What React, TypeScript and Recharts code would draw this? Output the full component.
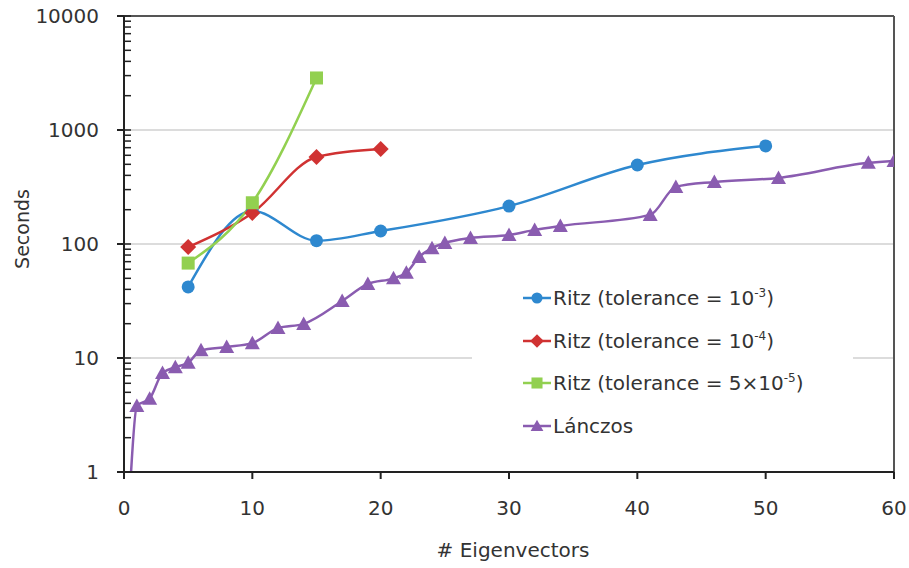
import React from 'react';
import {
  LineChart,
  Line,
  XAxis,
  YAxis,
  CartesianGrid,
  Legend,
  ReferenceLine,
  Label,
} from 'recharts';

// values (log y axis, seconds)
const ritz3X = [5, 10, 15, 20, 30, 40, 50];
const ritz3Y = [42, 195, 107, 130, 215, 493, 725];
const ritz4X = [5, 10, 15, 20];
const ritz4Y = [94, 187, 580, 680];
const ritz5X = [5, 10, 15];
const ritz5Y = [68, 230, 2860];
const lanczosX = [0.5, 1, 2, 3, 4, 5, 6, 8, 10, 12, 14, 17, 19, 21, 22, 23, 24, 25, 27, 30, 32, 34, 41, 43, 46, 51, 58, 60];
const lanczosY = [0.8, 3.8, 4.4, 7.4, 8.3, 9.1, 11.7, 12.5, 13.5, 18.3, 19.9, 31.6, 44.6, 50, 56, 77, 92, 102, 113, 120, 133, 144, 180, 317, 350, 380, 515, 535];

const xTicks = [0, 10, 20, 30, 40, 50, 60];
const xMinorTicks = [0, 2, 4, 6, 8, 10, 12, 14, 16, 18, 20, 22, 24, 26, 28, 30, 32, 34, 36, 38, 40, 42, 44, 46, 48, 50, 52, 54, 56, 58, 60];
const yTicks = [1, 10, 100, 1000, 10000];
const yMinorSteps = [1, 2, 3, 4, 5, 6, 7, 8, 9];
const yMinorTicks = [...yTicks.slice(0, -1).flatMap((d) => yMinorSteps.map((m) => m * d)), 10000];

const FONT = '"DejaVu Sans", sans-serif';
const TEXT = '#333';
const AXIS = '#222';

type Shape = 'circle' | 'diamond' | 'square' | 'triangle';

const series = [
  { key: 'r3', xs: ritz3X, ys: ritz3Y, color: '#2E88CF', shape: 'circle' as Shape, label: 'Ritz (tolerance = 10', sup: '-3', tail: ')' },
  { key: 'r4', xs: ritz4X, ys: ritz4Y, color: '#D03232', shape: 'diamond' as Shape, label: 'Ritz (tolerance = 10', sup: '-4', tail: ')' },
  { key: 'r5', xs: ritz5X, ys: ritz5Y, color: '#92D050', shape: 'square' as Shape, label: 'Ritz (tolerance = 5×10', sup: '-5', tail: ')' },
  { key: 'lz', xs: lanczosX, ys: lanczosY, color: '#8A5CB0', shape: 'triangle' as Shape, label: 'Lánczos', sup: '', tail: '' },
];

const toRows = (xs: number[], ys: number[]) => xs.map((x, i) => ({ x, y: ys[i] }));

function Marker({ cx, cy, shape, color, s = 1 }: { cx: number; cy: number; shape: Shape; color: string; s?: number }) {
  if (shape === 'circle') return <circle cx={cx} cy={cy} r={6.5 * s} fill={color} />;
  if (shape === 'diamond') {
    const d = 8 * s;
    return <polygon points={`${cx},${cy - d} ${cx + d},${cy} ${cx},${cy + d} ${cx - d},${cy}`} fill={color} />;
  }
  if (shape === 'square') {
    const h = 6.5 * s;
    return <rect x={cx - h} y={cy - h} width={2 * h} height={2 * h} fill={color} />;
  }
  const h = 7.5 * s;
  return <polygon points={`${cx},${cy - h} ${cx + h},${cy + h * 0.8} ${cx - h},${cy + h * 0.8}`} fill={color} />;
}

const makeDot = (shape: Shape, color: string) => (p: any) => {
  if (p.cx == null || p.cy == null) return <g key={p.index} />;
  return <Marker key={p.index} cx={p.cx} cy={p.cy} shape={shape} color={color} />;
};

function LegendBox() {
  return (
    <div style={{ background: '#fff', paddingLeft: 51, fontFamily: FONT, fontSize: 20, color: TEXT }}>
      {series.map((s) => (
        <div key={s.key} style={{ display: 'flex', alignItems: 'center', height: 42.5 }}>
          <svg width={28} height={20} style={{ marginRight: 2 }}>
            <line x1={0} y1={10} x2={28} y2={10} stroke={s.color} strokeWidth={2.5} />
            <Marker cx={14} cy={10} shape={s.shape} color={s.color} s={0.85} />
          </svg>
          <span>
            {s.label}
            {s.sup && <sup style={{ fontSize: 12 }}>{s.sup}</sup>}
            {s.tail}
          </span>
        </div>
      ))}
    </div>
  );
}

export default function App() {
  const tickStyle = { fill: TEXT, fontSize: 20, fontFamily: FONT };
  return (
    <div style={{ position: 'absolute', left: 0, top: 0, background: '#fff' }}>
      <LineChart width={909} height={568} margin={{ top: 16, right: 15, bottom: 0, left: 0 }}>
        <CartesianGrid vertical={false} stroke="#DCDCDC" strokeWidth={2} />
        <XAxis
          dataKey="x"
          type="number"
          domain={[0, 60]}
          ticks={xTicks}
          allowDataOverflow
          height={96}
          tickSize={7}
          tickMargin={22}
          tick={tickStyle}
          axisLine={{ stroke: AXIS, strokeWidth: 2 }}
          tickLine={{ stroke: AXIS, strokeWidth: 2 }}
        >
          <Label
            content={() => (
              <text x={513} y={557} textAnchor="middle" fill={TEXT} fontSize={20} fontFamily={FONT}>
                # Eigenvectors
              </text>
            )}
          />
        </XAxis>
        <XAxis
          xAxisId="minor"
          type="number"
          domain={[0, 60]}
          ticks={xMinorTicks}
          allowDataOverflow
          mirror
          axisLine={false}
          tickSize={7}
          tickFormatter={() => ''}
          tickLine={{ stroke: AXIS, strokeWidth: 1.5 }}
        />
        <YAxis
          type="number"
          scale="log"
          domain={[1, 10000]}
          ticks={yTicks}
          allowDataOverflow
          width={124}
          tickSize={7}
          tickMargin={18}
          tick={tickStyle}
          axisLine={{ stroke: AXIS, strokeWidth: 2 }}
          tickLine={{ stroke: AXIS, strokeWidth: 2 }}
        >
          <Label
            content={() => (
              <text
                x={22}
                y={229}
                transform="rotate(-90 22 229)"
                textAnchor="middle"
                dominantBaseline="central"
                fill={TEXT}
                fontSize={19}
                fontFamily={FONT}
              >
                Seconds
              </text>
            )}
          />
        </YAxis>
        <YAxis
          yAxisId="minor"
          type="number"
          scale="log"
          domain={[1, 10000]}
          ticks={yMinorTicks}
          allowDataOverflow
          mirror
          axisLine={false}
          tickSize={7}
          tickFormatter={() => ''}
          tickLine={{ stroke: AXIS, strokeWidth: 1.5 }}
        />
        <ReferenceLine y={10000} stroke="#555" strokeWidth={2} />
        <ReferenceLine x={60} stroke="#555" strokeWidth={2} />
        {series.map((s) => (
          <Line
            key={s.key}
            data={toRows(s.xs, s.ys)}
            dataKey="y"
            name={s.label}
            type="monotone"
            stroke={s.color}
            strokeWidth={2.5}
            dot={makeDot(s.shape, s.color)}
            activeDot={false}
            isAnimationActive={false}
          />
        ))}
        <Legend
          layout="vertical"
          verticalAlign="middle"
          align="center"
          content={() => <LegendBox />}
          wrapperStyle={{ left: 472, top: 277, width: 381 }}
        />
      </LineChart>
    </div>
  );
}
